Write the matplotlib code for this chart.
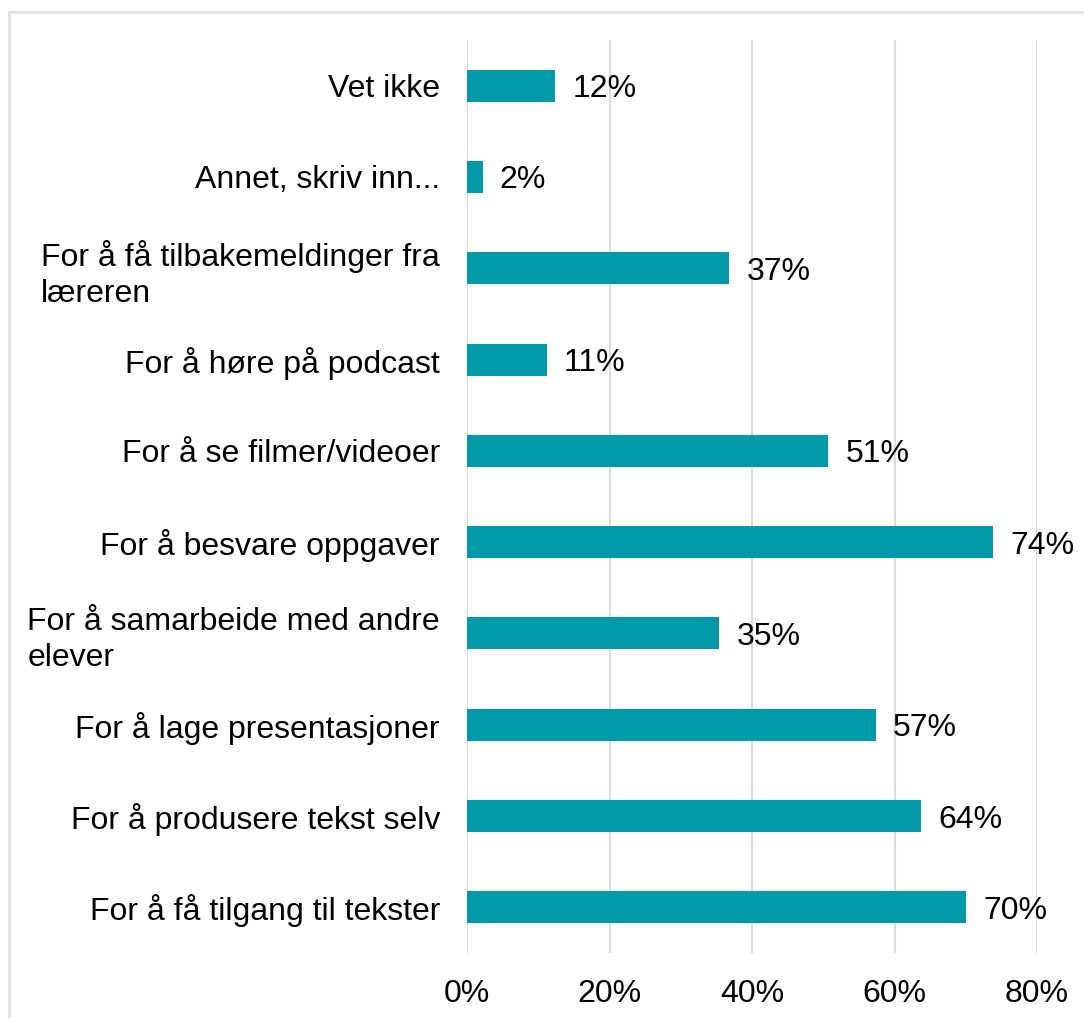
import matplotlib.pyplot as plt
from matplotlib.patches import Rectangle

plt.rcParams['font.family'] = ['Liberation Sans', 'DejaVu Sans']

# top to bottom
categories = [
    "Vet ikke",
    "Annet, skriv inn...",
    "For å få tilbakemeldinger fra\nlæreren",
    "For å høre på podcast",
    "For å se filmer/videoer",
    "For å besvare oppgaver",
    "For å samarbeide med andre\nelever",
    "For å lage presentasjoner",
    "For å produsere tekst selv",
    "For å få tilgang til tekster",
]
values = [12.4, 2.2, 36.8, 11.2, 50.7, 73.8, 35.4, 57.4, 63.7, 70.0]
labels = ["12%", "2%", "37%", "11%", "51%", "74%", "35%", "57%", "64%", "70%"]
xticks = [0, 20, 40, 60, 80]

FS = 23

fig = plt.figure(figsize=(10.84, 10.18), dpi=100)
ax = fig.add_axes([0.4308, 0.0639, 0.5259, 0.8968])

ypos = list(range(len(categories)))
ax.barh(ypos, values, height=0.35, color='#009AA8', zorder=3)
ax.set_ylim(len(categories) - 0.5, -0.5)
ax.set_xlim(0, 80)

for y, v, t in zip(ypos, values, labels):
    ax.text(v + 2.4, y, t, va='center_baseline', ha='left', fontsize=FS,
            color='black', zorder=4)

ax.set_yticks(ypos)
ax.set_yticklabels(categories, fontsize=FS, linespacing=1.25)
for lbl in ax.get_yticklabels():
    lbl.set_multialignment('left')
ax.set_xticks(xticks)
ax.set_xticklabels([f"{x}%" for x in xticks], fontsize=FS)
ax.tick_params(axis='y', length=0, pad=19.5)
ax.tick_params(axis='x', length=0, pad=19)

ax.grid(axis='x', color='#dcdcdc', linewidth=1.5, zorder=0)
for s in ax.spines.values():
    s.set_visible(False)

# light frame around chart area (cut off at right/bottom)
fig.patches.append(Rectangle((9 / 1084, -0.1), 1.2, 1 - 12 / 1018 + 0.1,
                             transform=fig.transFigure, fill=False,
                             edgecolor='#e3e3e3', linewidth=2))

fig.savefig('out.png', dpi=100)
